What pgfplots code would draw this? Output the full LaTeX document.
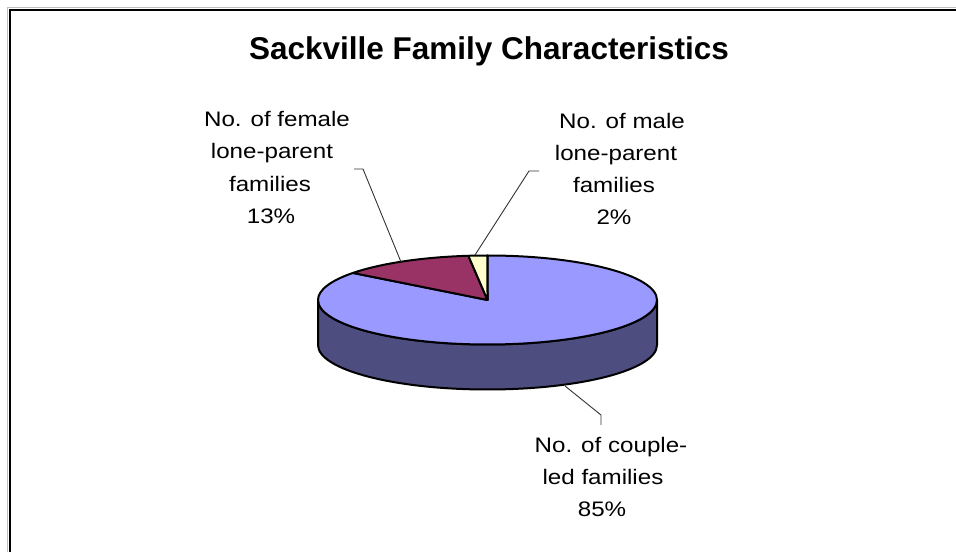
\documentclass[border=0pt]{standalone}
\usepackage{fontspec}
\setmainfont{Liberation Sans}
\newfontfamily\labfont[FakeStretch=1.15]{Liberation Sans}
\usepackage{pgfplots}
\usepackage{pgfplotstable}
\pgfplotsset{compat=1.18}
\definecolor{pieblue}{HTML}{9999FF}
\definecolor{pieside}{HTML}{4D4D80}
\definecolor{piemaroon}{HTML}{993366}
\definecolor{pieyellow}{HTML}{FFFFCC}
\pgfplotstableread{
label value
couple 85.4
female 12.8
male 1.8
}\piedata
\pgfplotstablegetelem{0}{value}\of\piedata \let\vA\pgfplotsretval
\pgfplotstablegetelem{1}{value}\of\piedata \let\vB\pgfplotsretval
\pgfplotstablegetelem{2}{value}\of\piedata \let\vC\pgfplotsretval
\pgfmathsetmacro\tot{\vA+\vB+\vC}
\pgfmathsetmacro\pA{90}
\pgfmathsetmacro\pB{\pA-(\vA/\tot)*360}
\pgfmathsetmacro\pC{\pB-(\vB/\tot)*360}
\pgfmathsetmacro\pD{\pC-(\vC/\tot)*360}
\def\cx{487.5}\def\cy{252}\def\ra{169.5}\def\rb{44.5}\def\dep{45}
\pgfmathsetmacro\cyb{\cy-\dep}
\pgfmathsetmacro\xA{\cx+\ra*cos(\pA)}\pgfmathsetmacro\yA{\cy+\rb*sin(\pA)}
\pgfmathsetmacro\xB{\cx+\ra*cos(\pB)}\pgfmathsetmacro\yB{\cy+\rb*sin(\pB)}
\pgfmathsetmacro\xC{\cx+\ra*cos(\pC)}\pgfmathsetmacro\yC{\cy+\rb*sin(\pC)}
\pgfmathsetmacro\xR{\cx+\ra}\pgfmathsetmacro\xL{\cx-\ra}
\begin{document}%
\begin{tikzpicture}
\useasboundingbox (0,0) rectangle (956pt,552pt);
\begin{axis}[at={(0,0)}, anchor=south west, scale only axis,
  width=956pt, height=552pt, xmin=0, xmax=956, ymin=0, ymax=552,
  hide axis, clip=false]
% frame
\draw[black!25, line width=1pt] (axis cs:7,0) -- (axis cs:7,544) -- (axis cs:956,544);
\draw[black, line width=2pt] (axis cs:9.5,0) -- (axis cs:9.5,542) -- (axis cs:956,542);
% title
\node[anchor=base, font=\fontsize{31.5}{38}\selectfont\bfseries] at (axis cs:489,492) {Sackville Family Characteristics};
% side of the pie
\filldraw[fill=pieside, draw=black, line width=2pt, line join=round]
  (axis cs:\xR,\cy) -- (axis cs:\xR,\cyb)
  arc[start angle=0, end angle=-180, x radius=\ra, y radius=\rb]
  -- (axis cs:\xL,\cy)
  arc[start angle=180, end angle=360, x radius=\ra, y radius=\rb] -- cycle;
% top slices
\filldraw[fill=pieblue, draw=black, line width=2pt, line join=round]
  (axis cs:\cx,\cy) -- (axis cs:\xA,\yA)
  arc[start angle=\pA, end angle=\pB, x radius=\ra, y radius=\rb] -- cycle;
\filldraw[fill=piemaroon, draw=black, line width=2pt, line join=round]
  (axis cs:\cx,\cy) -- (axis cs:\xB,\yB)
  arc[start angle=\pB, end angle=\pC, x radius=\ra, y radius=\rb] -- cycle;
\filldraw[fill=pieyellow, draw=black, line width=2pt, line join=round]
  (axis cs:\cx,\cy) -- (axis cs:\xC,\yC)
  arc[start angle=\pC, end angle=\pD, x radius=\ra, y radius=\rb] -- cycle;
% leader lines
\draw[black!80, line width=0.9pt] (axis cs:354,383) -- (axis cs:363,383) -- (axis cs:401,290);
\draw[black!80, line width=0.9pt] (axis cs:539,381) -- (axis cs:529,381) -- (axis cs:475,297);
\draw[black!80, line width=0.9pt] (axis cs:565,166) -- (axis cs:601,137) -- (axis cs:601,127);
% labels
\tikzset{lab/.style={anchor=base, inner sep=0pt, font=\labfont\fontsize{21}{24}\selectfont}}
\node[lab] at (axis cs:277,425) {No. of female};
\node[lab] at (axis cs:272,393) {lone-parent};
\node[lab] at (axis cs:270,360) {families};
\node[lab] at (axis cs:271,328) {13\%};
\node[lab] at (axis cs:622,423) {No. of male};
\node[lab] at (axis cs:616,391) {lone-parent};
\node[lab] at (axis cs:614,359) {families};
\node[lab] at (axis cs:614,327) {2\%};
\node[lab] at (axis cs:611,99) {No. of couple-};
\node[lab] at (axis cs:603,67) {led families};
\node[lab] at (axis cs:602,35) {85\%};
\end{axis}
\end{tikzpicture}%
\end{document}
